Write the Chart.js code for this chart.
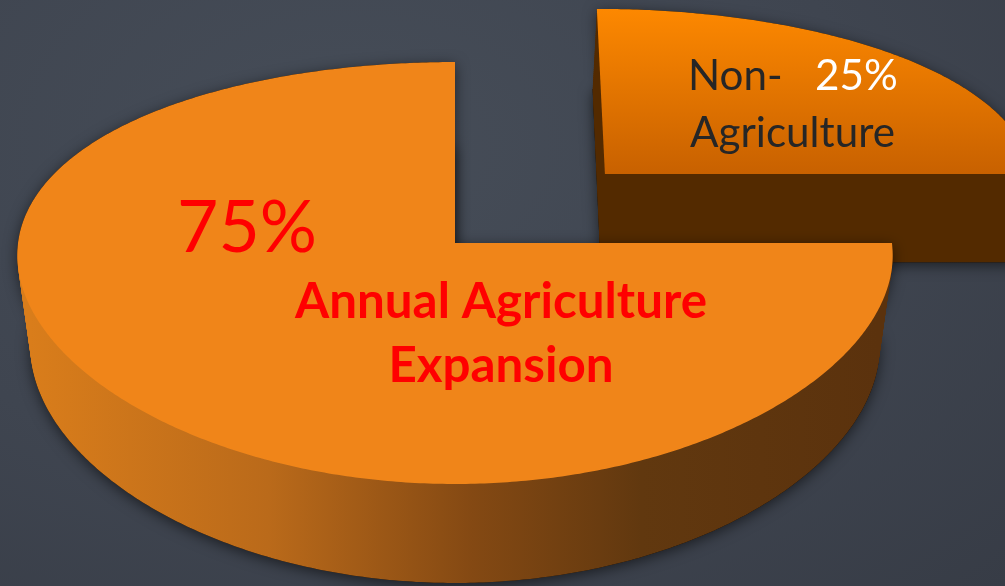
<!DOCTYPE html>
<html lang="en">
<head>
<meta charset="UTF-8" />
<title>Annual Agriculture Expansion</title>
<script src="https://cdn.jsdelivr.net/npm/chart.js"></script>
<style>
  html, body { margin: 0; padding: 0; }
  body {
    width: 1005px; height: 586px; overflow: hidden;
    background: radial-gradient(ellipse at 35% 25%, #464d58 0%, #3f4550 55%, #373c46 100%);
  }
  canvas { display: block; }
</style>
</head>
<body>
<canvas id="pie" width="1005" height="586"></canvas>
<script>
  const categories = ['Non-Agriculture', 'Annual Agriculture Expansion'];
  const shares = [25, 75];
  const labelLines = [['Non-', 'Agriculture'], ['Annual Agriculture', 'Expansion']];

  // tilted view of the pie (screen position of centre, radii, perspective)
  const view = { x0: 455, y0: 243, ax: 437, ay: 206.7, perspY: 0.1422, perspX: 0.058 };
  const explode = [0.495, 0];

  const sliceStyle = [
    { top: [[0, '#fd8800'], [1, '#c86100']],
      side: [[0, '#532a00'], [1, '#532a00']] },
    { top: [[0, '#f08519'], [1, '#f08519']],
      side: [[0, '#d97d1b'], [0.28, '#ba6a1a'], [0.52, '#844913'], [0.72, '#61380f'], [1, '#5b320d']] }
  ];

  function project(u, v) {
    return [view.x0 + view.ax * u / (1 - view.perspX * v),
            view.y0 + view.ay * v / (1 - view.perspY * v)];
  }

  // outline of one slice, f = 0 is the top face, f = 1 the bottom face
  function slicePath(ctx, arc, i, f) {
    const mid = (arc.startAngle + arc.endAngle) / 2;
    const ou = explode[i] * Math.cos(mid), ov = explode[i] * Math.sin(mid);
    const pts = [[ou, ov]];
    const n = Math.ceil((arc.endAngle - arc.startAngle) / 0.01);
    for (let k = 0; k <= n; k++) {
      const t = arc.startAngle + (arc.endAngle - arc.startAngle) * k / n;
      pts.push([ou + Math.cos(t), ov + Math.sin(t)]);
    }
    const box = { x1: 1e9, y1: 1e9, x2: -1e9, y2: -1e9 };
    ctx.beginPath();
    pts.forEach(([u, v], k) => {
      let [x, y] = project(u, v);
      x -= (x - view.x0) * 0.03 * f;
      y += f * (91 + 8 * v);
      box.x1 = Math.min(box.x1, x); box.x2 = Math.max(box.x2, x);
      box.y1 = Math.min(box.y1, y); box.y2 = Math.max(box.y2, y);
      k ? ctx.lineTo(x, y) : ctx.moveTo(x, y);
    });
    ctx.closePath();
    return box;
  }

  function grad(ctx, x1, y1, x2, y2, stops) {
    const g = ctx.createLinearGradient(x1, y1, x2, y2);
    stops.forEach(s => g.addColorStop(s[0], s[1]));
    return g;
  }

  const pie3d = {
    id: 'pie3d',
    beforeDatasetsDraw(chart) {
      const ctx = chart.ctx;
      const arcs = chart.getDatasetMeta(0).data;
      // back slices first
      const depthOf = i => Math.sin((arcs[i].startAngle + arcs[i].endAngle) / 2) * explode[i];
      const order = arcs.map((a, i) => i).sort((a, b) => depthOf(a) - depthOf(b));
      order.forEach(i => {
        const arc = arcs[i], st = sliceStyle[i];
        ctx.save();
        ctx.shadowColor = 'rgba(0,0,0,0.55)';
        ctx.shadowBlur = 14;
        ctx.shadowOffsetY = 3;
        ctx.fillStyle = '#000';
        slicePath(ctx, arc, i, 1); ctx.fill();
        slicePath(ctx, arc, i, 0); ctx.fill();
        ctx.restore();
        // side walls
        const box = slicePath(ctx, arc, i, 1);
        ctx.fillStyle = grad(ctx, box.x1, 0, box.x2, 0, st.side);
        for (let k = 40; k >= 1; k--) {
          slicePath(ctx, arc, i, k / 40);
          ctx.fill();
        }
        // top face
        const tb = slicePath(ctx, arc, i, 0);
        ctx.fillStyle = grad(ctx, 0, tb.y1, 0, tb.y2, st.top);
        ctx.fill();
      });
      return false;
    },
    afterDraw(chart) {
      const ctx = chart.ctx;
      const fit = (text, weight, width) => {
        ctx.font = weight + ' 100px Lato';
        return 100 * width / ctx.measureText(text).width;
      };
      ctx.save();
      ctx.textBaseline = 'alphabetic';
      ctx.textAlign = 'left';

      // small slice
      let s = fit(labelLines[0][1], 'normal', 205);
      ctx.font = 'normal ' + s + 'px Lato';
      ctx.fillStyle = '#262626';
      ctx.fillText(labelLines[0][0], 688, 90);
      ctx.fillText(labelLines[0][1], 690, 147);
      ctx.fillStyle = '#ffffff';
      ctx.fillText(shares[0] + '%', 815, 90);

      // large slice
      s = fit(shares[1] + '%', 'normal', 140);
      ctx.font = 'normal ' + s + 'px Lato';
      ctx.fillStyle = '#ff0000';
      ctx.fillText(shares[1] + '%', 177, 252);

      s = fit(labelLines[1][0], 'bold', 412);
      ctx.font = 'bold ' + s + 'px Lato';
      ctx.textAlign = 'center';
      ctx.fillText(labelLines[1][0], 501, 318);
      ctx.fillText(labelLines[1][1], 501, 382);
      ctx.restore();
    }
  };

  new Chart(document.getElementById('pie'), {
    type: 'pie',
    data: {
      labels: categories,
      datasets: [{ data: shares, backgroundColor: ['#fd8800', '#f08519'], borderWidth: 0 }]
    },
    options: {
      responsive: false,
      animation: false,
      events: [],
      plugins: { legend: { display: false }, tooltip: { enabled: false } }
    },
    plugins: [pie3d]
  });
</script>
</body>
</html>
